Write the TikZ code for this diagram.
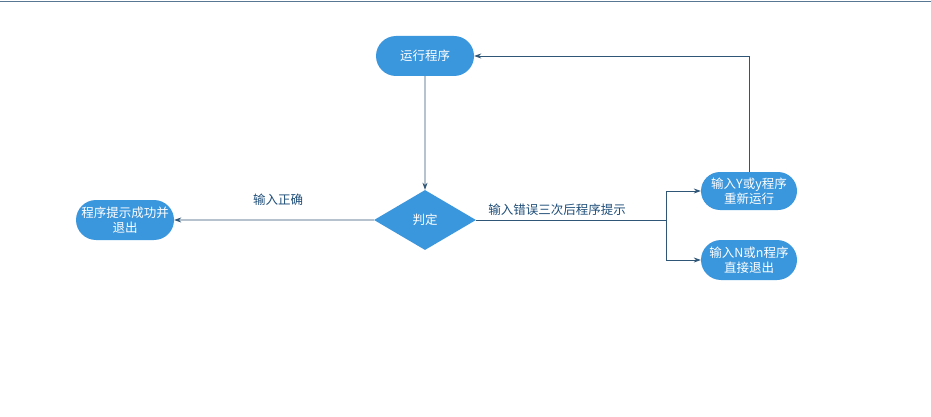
\documentclass[tikz,border=0pt]{standalone}
\usepackage{fontspec}
\setmainfont{Noto Sans CJK SC}
\usepackage{tikz}
\usetikzlibrary{positioning, arrows.meta, shapes.geometric, shapes.misc}
\definecolor{boxfill}{HTML}{3A96DD}
\definecolor{wire}{HTML}{2F5577}
\definecolor{labeltxt}{HTML}{1F4E79}

\begin{document}
\begin{tikzpicture}[
  x=1pt, y=-1pt,
  every node/.style={font=\fontsize{12.5}{15}\selectfont},
  pill/.style={rounded rectangle, fill=boxfill, text=white, inner sep=1pt,
               minimum width=100pt, minimum height=40pt, align=center},
  choice/.style={diamond, fill=boxfill, text=white, inner sep=0pt,
                 minimum width=102pt, minimum height=60pt},
  flow/.style={draw=wire, line width=0.8pt, -{Stealth[length=7pt,width=5pt]}},
  wirelbl/.style={text=labeltxt},
]
  \useasboundingbox (0,0) rectangle (931,417);
  \draw[wire!80, line width=1pt] (0,1.5) -- (931,1.5);

  \node[pill] (run) at (425,56) {运行程序};
  \node[choice] (judge) at (425,220) {判定};
  \node[pill] (okexit) at (125,220) {程序提示成功并\\退出};
  \node[pill, minimum width=98pt, minimum height=38pt] (retry) at (749,191) {输入Y或y程序\\重新运行};
  \node[pill, minimum width=98pt, minimum height=40pt] (quit) at (749,260) {输入N或n程序\\直接退出};
  \coordinate (split) at (666,220);

  \draw[flow] (run) -- (judge);
  \draw[flow] (judge) -- (okexit)
    node[wirelbl] at (278,200) {输入正确};
  \draw[wire, line width=0.8pt] (judge) -- (split)
    node[wirelbl] at (557,210) {输入错误三次后程序提示};
  \draw[flow] (split) |- (retry.west);
  \draw[flow] (split) |- (quit.west);
  \draw[flow] (retry.north) |- (run.east);
\end{tikzpicture}
\end{document}
